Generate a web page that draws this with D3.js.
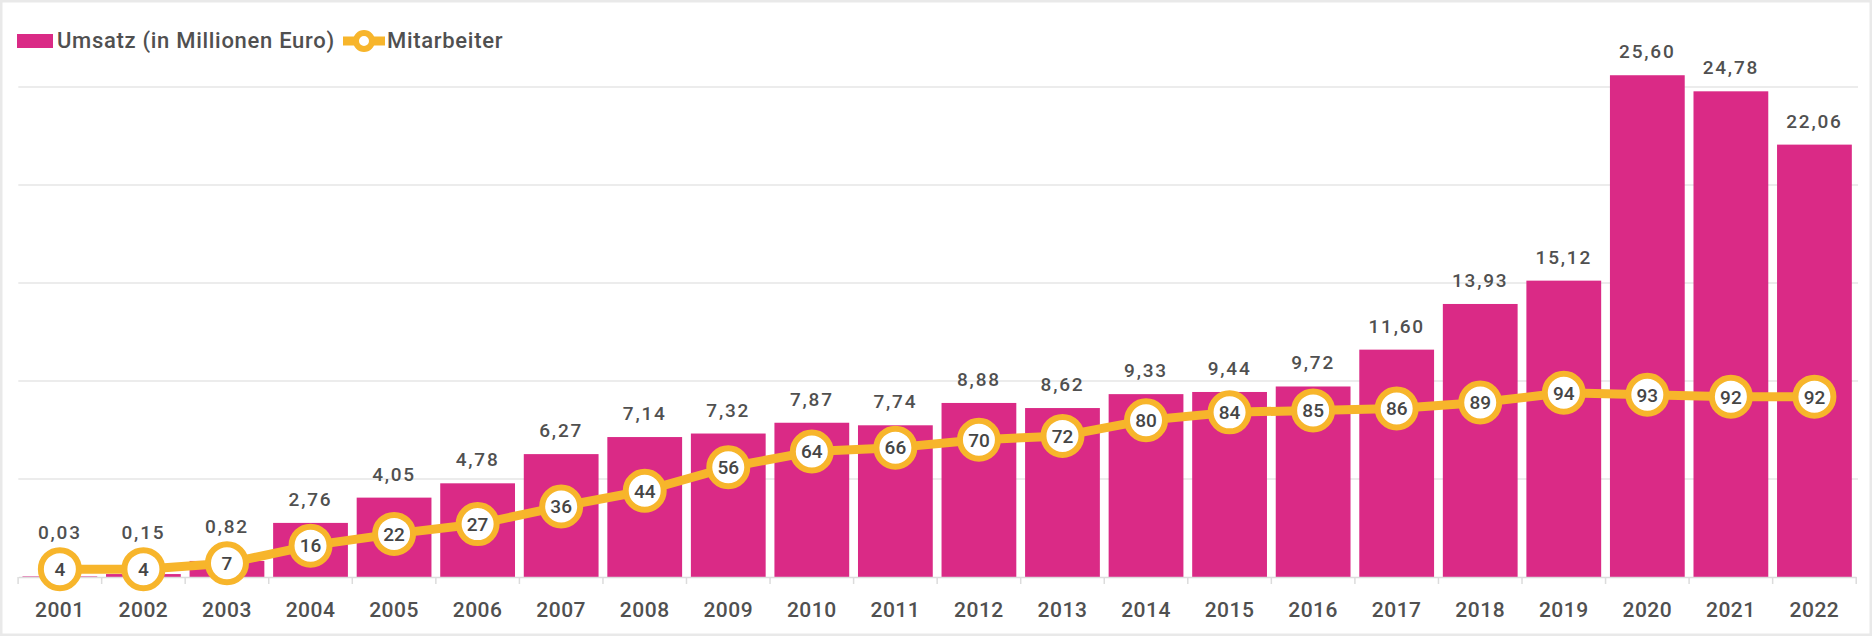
<!DOCTYPE html>
<html>
<head>
<meta charset="utf-8">
<script src="https://cdn.jsdelivr.net/npm/d3@7/dist/d3.min.js"></script>
<style>
  html, body { margin: 0; padding: 0; background: #fff; }
  svg { display: block; font-family: Roboto, "Liberation Sans", sans-serif; }
</style>
</head>
<body>
<svg id="chart" width="1872" height="636"></svg>
<script>
const years = ["2001","2002","2003","2004","2005","2006","2007","2008","2009","2010","2011","2012","2013","2014","2015","2016","2017","2018","2019","2020","2021","2022"];
const umsatz = [0.03,0.15,0.82,2.76,4.05,4.78,6.27,7.14,7.32,7.87,7.74,8.88,8.62,9.33,9.44,9.72,11.60,13.93,15.12,25.60,24.78,22.06];
const mitarbeiter = [4,4,7,16,22,27,36,44,56,64,66,70,72,80,84,85,86,89,94,93,92,92];
const gridTicks = [0,5,10,15,20,25];
const seriesNames = ["Umsatz (in Millionen Euro)", "Mitarbeiter"];

(function () {
const BAR = "#DA2A86", ORANGE = "#F7B52B", TEXT = "#505050";
const W = 1872, H = 636;
const pLeft = 18.3, pRight = 1856, pTop = 87, pBottom = 577;

const svg = d3.select("#chart");
const fmt = v => v.toFixed(2).replace(".", ",");

// outer border
svg.append("rect").attr("x", 1).attr("y", 1).attr("width", W - 2).attr("height", H - 2)
  .attr("fill", "none").attr("stroke", "#e9e9e9").attr("stroke-width", 3);

const x = d3.scaleBand().domain(years).range([pLeft, pRight]).paddingInner(0.105).paddingOuter(0.05);
const y = d3.scaleLinear().domain([0, 25]).range([pBottom, pTop]);
const y2 = d3.scaleLinear().domain([0, 250]).range([pBottom, pTop]);

// gridlines
svg.append("g").selectAll("line").data(gridTicks.slice(1)).join("line")
  .attr("x1", pLeft).attr("x2", pRight + 2)
  .attr("y1", d => y(d)).attr("y2", d => y(d))
  .attr("stroke", "#e6e6e6").attr("stroke-width", 1.5);

// bars
svg.append("g").selectAll("rect").data(years).join("rect")
  .attr("x", d => x(d)).attr("width", x.bandwidth())
  .attr("y", (d, i) => y(umsatz[i])).attr("height", (d, i) => pBottom - y(umsatz[i]))
  .attr("fill", BAR);

// x axis
const xAxis = d3.axisBottom(x).tickSize(0).tickPadding(0).tickFormat(() => "");
const ax = svg.append("g").attr("transform", `translate(0,${pBottom})`).call(xAxis);
ax.select(".domain").attr("stroke", "#dcdcdc").attr("stroke-width", 1.5);
const step = x.step();
const offs = x(years[0]) - step * x.paddingOuter() - (x.bandwidth() > 0 ? 0 : 0);
const bounds = years.map((d, i) => x(d) - step * x.paddingInner() / 2).concat([x(years[years.length - 1]) + x.bandwidth() + step * x.paddingInner() / 2]);
svg.append("g").selectAll("line").data(bounds).join("line")
  .attr("x1", d => d).attr("x2", d => d).attr("y1", pBottom).attr("y2", pBottom + 7)
  .attr("stroke", "#dcdcdc").attr("stroke-width", 1.5);
svg.append("g").selectAll("text").data(years).join("text")
  .attr("x", d => x(d) + x.bandwidth() / 2).attr("y", 617)
  .attr("text-anchor", "middle").attr("font-size", 21).attr("font-weight", 500).attr("fill", TEXT)
  .attr("letter-spacing", 0.5)
  .text(d => d);

// line
const cx = d => x(d) + x.bandwidth() / 2;
const line = d3.line().x((d, i) => cx(years[i])).y(d => y2(d));
svg.append("path").datum(mitarbeiter).attr("d", line)
  .attr("fill", "none").attr("stroke", ORANGE).attr("stroke-width", 9).attr("stroke-linejoin", "round");

// bar value labels
const R = 19;
svg.append("g").selectAll("text").data(years).join("text")
  .attr("x", d => cx(d))
  .attr("y", (d, i) => Math.min(y(umsatz[i]) - 17, y2(mitarbeiter[i]) - R - 3 - 8))
  .attr("text-anchor", "middle").attr("font-size", 19).attr("font-weight", 500).attr("fill", TEXT)
  .attr("letter-spacing", 1.8)
  .text((d, i) => fmt(umsatz[i]));

// markers
const mk = svg.append("g").selectAll("g").data(years).join("g")
  .attr("transform", (d, i) => `translate(${cx(d)},${y2(mitarbeiter[i])})`);
mk.append("circle").attr("r", R).attr("fill", "#fff").attr("stroke", ORANGE).attr("stroke-width", 6);
mk.append("text").attr("text-anchor", "middle").attr("dy", "0.36em")
  .attr("font-size", 19).attr("font-weight", 500).attr("fill", "#454545")
  .text((d, i) => mitarbeiter[i]);

// legend
const lg = svg.append("g");
lg.append("rect").attr("x", 17).attr("y", 34).attr("width", 36).attr("height", 14).attr("fill", BAR);
lg.append("text").attr("x", 57).attr("y", 48).attr("font-size", 22).attr("font-weight", 500).attr("fill", TEXT)
  .attr("letter-spacing", 0.7)
  .text(seriesNames[0]);
lg.append("line").attr("x1", 343).attr("x2", 385).attr("y1", 41).attr("y2", 41)
  .attr("stroke", ORANGE).attr("stroke-width", 9);
lg.append("circle").attr("cx", 364).attr("cy", 41).attr("r", 8).attr("fill", "#fff")
  .attr("stroke", ORANGE).attr("stroke-width", 6);
lg.append("text").attr("x", 387).attr("y", 48).attr("font-size", 22).attr("font-weight", 500).attr("fill", TEXT)
  .attr("letter-spacing", 0.7)
  .text(seriesNames[1]);
})();
</script>
</body>
</html>
